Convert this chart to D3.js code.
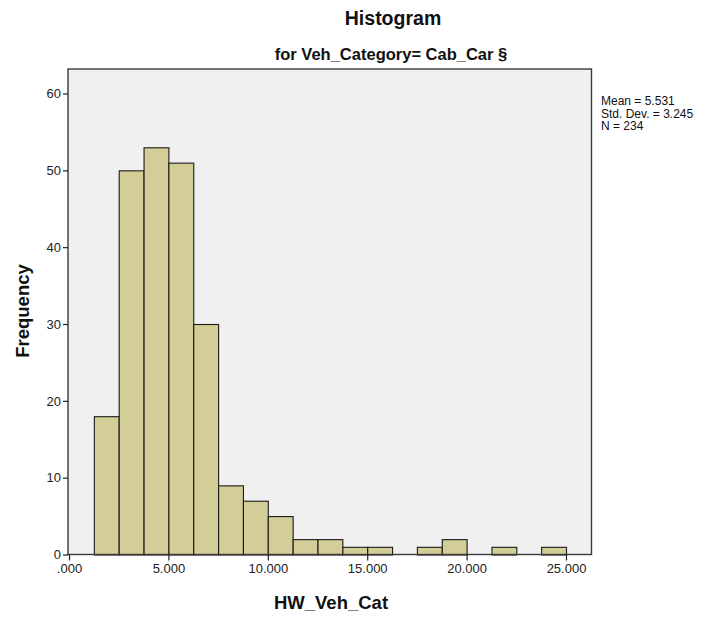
<!DOCTYPE html>
<html>
<head>
<meta charset="utf-8">
<script src="https://cdn.jsdelivr.net/npm/d3@7"></script>
<style>
  html, body { margin: 0; padding: 0; background: #ffffff; }
  svg { display: block; font-family: "Liberation Sans", Arial, sans-serif; }
</style>
</head>
<body>
<svg id="chart" width="711" height="619"></svg>
<script>
// ---- data ----
const binEdges = [1.25, 2.5, 3.75, 5, 6.25, 7.5, 8.75, 10, 11.25, 12.5, 13.75, 15, 16.25, 17.5, 18.75, 20, 21.25, 22.5, 23.75, 25];
const counts   = [18, 50, 53, 51, 30, 9, 7, 5, 2, 2, 1, 1, 0, 1, 2, 0, 1, 0, 1];
const xTicks = [0, 5, 10, 15, 20, 25];
const xTickLabels = [".000", "5.000", "10.000", "15.000", "20.000", "25.000"];
const yTicks = [0, 10, 20, 30, 40, 50, 60];
const statsLines = ["Mean = 5.531", "Std. Dev. = 3.245", "N = 234"];
const titleText = "Histogram";
const subtitleText = "for Veh_Category= Cab_Car §";
const xLabel = "HW_Veh_Cat";
const yLabel = "Frequency";

// ---- layout ----
const frame = { left: 68, top: 69, right: 591.5, bottom: 554.5 };
const svg = d3.select("#chart");

const x = d3.scaleLinear().domain([0, 25]).range([69, 566]);
const y = d3.scaleLinear().domain([0, 60]).range([frame.bottom, 93.5]);

// plot background
svg.append("rect")
  .attr("x", frame.left).attr("y", frame.top)
  .attr("width", frame.right - frame.left)
  .attr("height", frame.bottom - frame.top)
  .attr("fill", "#f0f0f0");

// bars
const bins = counts.map((c, i) => ({ x0: binEdges[i], x1: binEdges[i + 1], n: c })).filter(d => d.n > 0);
svg.append("g").selectAll("rect").data(bins).join("rect")
  .attr("x", d => x(d.x0) + 0.5)
  .attr("y", d => y(d.n) + 0.5)
  .attr("width", d => x(d.x1) - x(d.x0))
  .attr("height", d => y(0) - y(d.n))
  .attr("fill", "#d3ce97")
  .attr("stroke", "#1a1a1a")
  .attr("stroke-width", 1.1);

// frame
svg.append("rect")
  .attr("x", frame.left).attr("y", frame.top)
  .attr("width", frame.right - frame.left)
  .attr("height", frame.bottom - frame.top)
  .attr("fill", "none")
  .attr("stroke", "#3a3a3a")
  .attr("stroke-width", 1.4);

// y axis
const yAxis = svg.append("g")
  .attr("transform", `translate(${frame.left},0)`)
  .call(d3.axisLeft(y).tickValues(yTicks).tickSize(5).tickPadding(2).tickFormat(d3.format("d")));
yAxis.select(".domain").remove();
yAxis.selectAll(".tick line").attr("stroke", "#222").attr("stroke-width", 1.2);
yAxis.selectAll(".tick text").attr("fill", "#222").style("font-size", "13px")
  .style("font-family", "'Liberation Sans', Arial, sans-serif");

// x axis
const xAxis = svg.append("g")
  .attr("transform", `translate(0,${frame.bottom})`)
  .call(d3.axisBottom(x).tickValues(xTicks).tickSize(6).tickPadding(3)
    .tickFormat((d, i) => xTickLabels[i]));
xAxis.select(".domain").remove();
xAxis.selectAll(".tick line").attr("stroke", "#222").attr("stroke-width", 1.2);
xAxis.selectAll(".tick text").attr("fill", "#222").style("font-size", "13px")
  .style("font-family", "'Liberation Sans', Arial, sans-serif");

// titles
svg.append("text")
  .attr("x", 393).attr("y", 25)
  .attr("text-anchor", "middle")
  .style("font-size", "19.5px").style("font-weight", "bold").attr("fill", "#111")
  .text(titleText);

svg.append("text")
  .attr("x", 391).attr("y", 59.5)
  .attr("text-anchor", "middle")
  .style("font-size", "16.5px").style("font-weight", "bold").attr("fill", "#111")
  .text(subtitleText);

// axis labels
svg.append("text")
  .attr("x", 331).attr("y", 609)
  .attr("text-anchor", "middle")
  .style("font-size", "18.5px").style("font-weight", "bold").attr("fill", "#111")
  .text(xLabel);

svg.append("text")
  .attr("transform", "translate(29,311) rotate(-90)")
  .attr("text-anchor", "middle")
  .style("font-size", "18.5px").style("font-weight", "bold").attr("fill", "#111")
  .text(yLabel);

// stats legend
svg.append("g").selectAll("text").data(statsLines).join("text")
  .attr("x", 601)
  .attr("y", (d, i) => 105 + i * 12.5)
  .style("font-size", "12px").attr("fill", "#111")
  .text(d => d);
</script>
</body>
</html>
